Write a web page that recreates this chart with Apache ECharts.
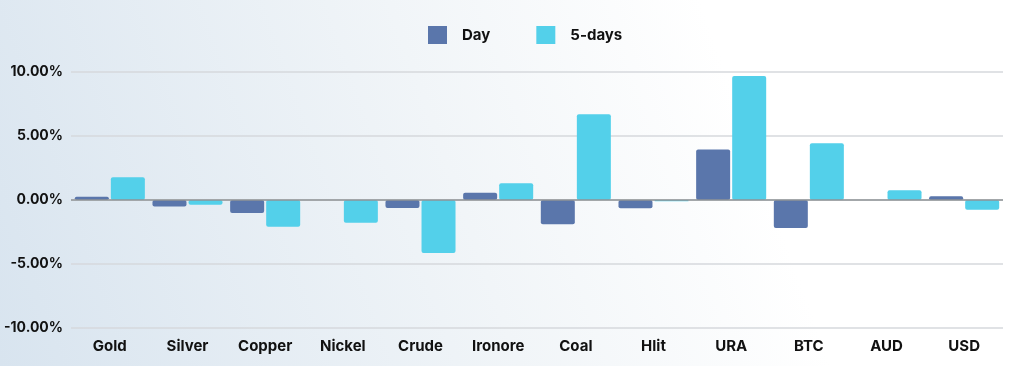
<!DOCTYPE html>
<html><head><meta charset="utf-8">
<script src="https://cdn.jsdelivr.net/npm/echarts@6/dist/echarts.min.js"></script>
<style>html,body{margin:0;padding:0;}#c{width:1024px;height:366px;}</style>
</head><body><div id="c"></div>
<script>
const categories = ['Gold','Silver','Copper','Nickel','Crude','Ironore','Coal','Hlit','URA','BTC','AUD','USD'];
const dayValues = [0.26, -0.50, -1.02, 0, -0.63, 0.57, -1.90, -0.65, 3.94, -2.19, 0, 0.29];
const fiveDayValues = [1.77, -0.37, -2.09, -1.77, -4.15, 1.30, 6.70, -0.10, 9.68, 4.43, 0.76, -0.76];
const seriesNames = ['Day', '5-days'];
const yTicks = { min: -10, max: 10, interval: 5 };

const font = 'Inter, "DejaVu Sans", sans-serif';
const chart = echarts.init(document.getElementById('c'));
chart.setOption({
  backgroundColor: new echarts.graphic.LinearGradient(0, 1, 1, 0, [
    { offset: 0, color: '#d8e4ef' },
    { offset: 0.45, color: '#f1f5f8' },
    { offset: 0.72, color: '#ffffff' },
    { offset: 1, color: '#ffffff' }
  ]),
  animation: false,
  legend: {
    top: 21, left: 423,
    itemWidth: 19, itemHeight: 18, itemGap: 46,
    icon: 'rect',
    itemStyle: { borderRadius: 2 },
    textStyle: { fontFamily: font, fontWeight: 700, fontSize: 15, color: '#111', padding: [0, 0, 0, 10] },
    data: seriesNames
  },
  grid: { left: 71, right: 21, top: 72, bottom: 38, containLabel: false },
  xAxis: {
    type: 'category', data: categories, position: 'bottom',
    axisLine: { show: false }, axisTick: { show: false },
    axisLabel: { fontFamily: font, fontWeight: 700, fontSize: 15, color: '#111', margin: 11, interval: 0 },
    splitLine: { show: false }
  },
  yAxis: {
    type: 'value', min: yTicks.min, max: yTicks.max, interval: yTicks.interval,
    axisLine: { show: false }, axisTick: { show: false },
    axisLabel: { fontFamily: font, fontWeight: 700, fontSize: 14, color: '#111', margin: 8,
      formatter: v => v.toFixed(2) + '%' },
    splitLine: { lineStyle: { color: '#d6d9dc', width: 1.5 } }
  },
  series: [
    { name: seriesNames[0], type: 'bar', data: dayValues, barWidth: 34, barGap: '6%',
      itemStyle: { color: '#5a76ab', borderRadius: 2 },
      markLine: { silent: true, symbol: 'none', label: { show: false },
        lineStyle: { color: '#8f9396', width: 1.5, type: 'solid' }, data: [{ yAxis: 0 }] } },
    { name: seriesNames[1], type: 'bar', data: fiveDayValues, barWidth: 34,
      itemStyle: { color: '#53d0ea', borderRadius: 2 } }
  ]
});
</script></body></html>
